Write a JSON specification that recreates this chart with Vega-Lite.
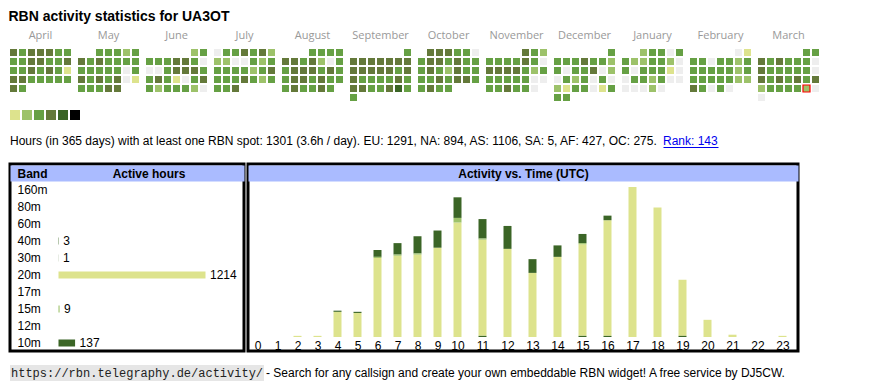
{
"$schema": "https://vega.github.io/schema/vega-lite/v6.json",
"background": "white",
"padding": {"left": 8, "top": 10, "right": 5, "bottom": 2},
"title": {"text": "RBN activity statistics for UA3OT", "anchor": "start", "fontSize": 14, "font": "Liberation Sans", "fontWeight": "bold", "color": "#000", "offset": 6},
"config": {"view": {"stroke": null}, "font": "Liberation Sans", "axis": {"grid": false}},
"resolve": {"scale": {"color": "independent", "x": "independent", "y": "independent"}},
"spacing": 10,
"vconcat": [
{
"vconcat": [
{
"data": {"values": [
{"d":"2024-04-01","v":4},{"d":"2024-04-02","v":3},{"d":"2024-04-03","v":4},{"d":"2024-04-04","v":4},{"d":"2024-04-05","v":4},{"d":"2024-04-06","v":3},{"d":"2024-04-07","v":3},{"d":"2024-04-08","v":3},{"d":"2024-04-09","v":3},{"d":"2024-04-10","v":4},{"d":"2024-04-11","v":4},{"d":"2024-04-12","v":3},{"d":"2024-04-13","v":3},{"d":"2024-04-14","v":4},{"d":"2024-04-15","v":3},{"d":"2024-04-16","v":3},{"d":"2024-04-17","v":4},{"d":"2024-04-18","v":3},{"d":"2024-04-19","v":4},{"d":"2024-04-20","v":3},{"d":"2024-04-21","v":1},{"d":"2024-04-22","v":4},{"d":"2024-04-23","v":4},{"d":"2024-04-24","v":3},{"d":"2024-04-25","v":3},{"d":"2024-04-26","v":3},{"d":"2024-04-27","v":3},{"d":"2024-04-28","v":3},{"d":"2024-04-29","v":4},{"d":"2024-04-30","v":3},
{"d":"2024-05-01","v":3},{"d":"2024-05-02","v":3},{"d":"2024-05-03","v":3},{"d":"2024-05-04","v":2},{"d":"2024-05-05","v":3},{"d":"2024-05-06","v":4},{"d":"2024-05-07","v":3},{"d":"2024-05-08","v":4},{"d":"2024-05-09","v":3},{"d":"2024-05-10","v":3},{"d":"2024-05-11","v":3},{"d":"2024-05-12","v":3},{"d":"2024-05-13","v":3},{"d":"2024-05-14","v":3},{"d":"2024-05-15","v":3},{"d":"2024-05-16","v":3},{"d":"2024-05-17","v":3},{"d":"2024-05-18","v":0},{"d":"2024-05-19","v":3},{"d":"2024-05-20","v":4},{"d":"2024-05-21","v":3},{"d":"2024-05-22","v":4},{"d":"2024-05-23","v":3},{"d":"2024-05-24","v":4},{"d":"2024-05-25","v":0},{"d":"2024-05-26","v":1},{"d":"2024-05-27","v":3},{"d":"2024-05-28","v":3},{"d":"2024-05-29","v":3},{"d":"2024-05-30","v":4},{"d":"2024-05-31","v":4},
{"d":"2024-06-01","v":2},{"d":"2024-06-02","v":3},{"d":"2024-06-03","v":3},{"d":"2024-06-04","v":3},{"d":"2024-06-05","v":3},{"d":"2024-06-06","v":4},{"d":"2024-06-07","v":4},{"d":"2024-06-08","v":3},{"d":"2024-06-09","v":0},{"d":"2024-06-10","v":0},{"d":"2024-06-11","v":0},{"d":"2024-06-12","v":3},{"d":"2024-06-13","v":4},{"d":"2024-06-14","v":4},{"d":"2024-06-15","v":4},{"d":"2024-06-16","v":3},{"d":"2024-06-17","v":3},{"d":"2024-06-18","v":4},{"d":"2024-06-19","v":3},{"d":"2024-06-20","v":1},{"d":"2024-06-21","v":0},{"d":"2024-06-22","v":3},{"d":"2024-06-23","v":4},{"d":"2024-06-24","v":3},{"d":"2024-06-25","v":2},{"d":"2024-06-26","v":3},{"d":"2024-06-27","v":3},{"d":"2024-06-28","v":3},{"d":"2024-06-29","v":2},{"d":"2024-06-30","v":0},
{"d":"2024-07-01","v":0},{"d":"2024-07-02","v":3},{"d":"2024-07-03","v":3},{"d":"2024-07-04","v":4},{"d":"2024-07-05","v":3},{"d":"2024-07-06","v":4},{"d":"2024-07-07","v":2},{"d":"2024-07-08","v":2},{"d":"2024-07-09","v":2},{"d":"2024-07-10","v":0},{"d":"2024-07-11","v":0},{"d":"2024-07-12","v":3},{"d":"2024-07-13","v":2},{"d":"2024-07-14","v":3},{"d":"2024-07-15","v":3},{"d":"2024-07-16","v":3},{"d":"2024-07-17","v":3},{"d":"2024-07-18","v":3},{"d":"2024-07-19","v":2},{"d":"2024-07-20","v":3},{"d":"2024-07-21","v":4},{"d":"2024-07-22","v":3},{"d":"2024-07-23","v":3},{"d":"2024-07-24","v":3},{"d":"2024-07-25","v":4},{"d":"2024-07-26","v":3},{"d":"2024-07-27","v":2},{"d":"2024-07-28","v":3},{"d":"2024-07-29","v":3},{"d":"2024-07-30","v":3},{"d":"2024-07-31","v":4},
{"d":"2024-08-01","v":3},{"d":"2024-08-02","v":3},{"d":"2024-08-03","v":3},{"d":"2024-08-04","v":3},{"d":"2024-08-05","v":4},{"d":"2024-08-06","v":4},{"d":"2024-08-07","v":3},{"d":"2024-08-08","v":4},{"d":"2024-08-09","v":2},{"d":"2024-08-10","v":0},{"d":"2024-08-11","v":3},{"d":"2024-08-12","v":3},{"d":"2024-08-13","v":4},{"d":"2024-08-14","v":4},{"d":"2024-08-15","v":4},{"d":"2024-08-16","v":3},{"d":"2024-08-17","v":4},{"d":"2024-08-18","v":3},{"d":"2024-08-19","v":3},{"d":"2024-08-20","v":4},{"d":"2024-08-21","v":4},{"d":"2024-08-22","v":3},{"d":"2024-08-23","v":4},{"d":"2024-08-24","v":3},{"d":"2024-08-25","v":3},{"d":"2024-08-26","v":3},{"d":"2024-08-27","v":4},{"d":"2024-08-28","v":3},{"d":"2024-08-29","v":3},{"d":"2024-08-30","v":4},{"d":"2024-08-31","v":3},
{"d":"2024-09-01","v":3},{"d":"2024-09-02","v":4},{"d":"2024-09-03","v":4},{"d":"2024-09-04","v":4},{"d":"2024-09-05","v":4},{"d":"2024-09-06","v":4},{"d":"2024-09-07","v":4},{"d":"2024-09-08","v":4},{"d":"2024-09-09","v":4},{"d":"2024-09-10","v":4},{"d":"2024-09-11","v":4},{"d":"2024-09-12","v":4},{"d":"2024-09-13","v":4},{"d":"2024-09-14","v":3},{"d":"2024-09-15","v":4},{"d":"2024-09-16","v":4},{"d":"2024-09-17","v":3},{"d":"2024-09-18","v":3},{"d":"2024-09-19","v":3},{"d":"2024-09-20","v":3},{"d":"2024-09-21","v":4},{"d":"2024-09-22","v":3},{"d":"2024-09-23","v":4},{"d":"2024-09-24","v":4},{"d":"2024-09-25","v":3},{"d":"2024-09-26","v":3},{"d":"2024-09-27","v":4},{"d":"2024-09-28","v":5},{"d":"2024-09-29","v":3},{"d":"2024-09-30","v":3},
{"d":"2024-10-01","v":4},{"d":"2024-10-02","v":4},{"d":"2024-10-03","v":4},{"d":"2024-10-04","v":3},{"d":"2024-10-05","v":3},{"d":"2024-10-06","v":0},{"d":"2024-10-07","v":3},{"d":"2024-10-08","v":4},{"d":"2024-10-09","v":4},{"d":"2024-10-10","v":3},{"d":"2024-10-11","v":4},{"d":"2024-10-12","v":3},{"d":"2024-10-13","v":3},{"d":"2024-10-14","v":3},{"d":"2024-10-15","v":4},{"d":"2024-10-16","v":3},{"d":"2024-10-17","v":2},{"d":"2024-10-18","v":4},{"d":"2024-10-19","v":3},{"d":"2024-10-20","v":3},{"d":"2024-10-21","v":3},{"d":"2024-10-22","v":3},{"d":"2024-10-23","v":4},{"d":"2024-10-24","v":3},{"d":"2024-10-25","v":4},{"d":"2024-10-26","v":4},{"d":"2024-10-27","v":3},{"d":"2024-10-28","v":3},{"d":"2024-10-29","v":4},{"d":"2024-10-30","v":3},{"d":"2024-10-31","v":3},
{"d":"2024-11-01","v":4},{"d":"2024-11-02","v":3},{"d":"2024-11-03","v":2},{"d":"2024-11-04","v":3},{"d":"2024-11-05","v":3},{"d":"2024-11-06","v":3},{"d":"2024-11-07","v":3},{"d":"2024-11-08","v":4},{"d":"2024-11-09","v":3},{"d":"2024-11-10","v":0},{"d":"2024-11-11","v":4},{"d":"2024-11-12","v":4},{"d":"2024-11-13","v":4},{"d":"2024-11-14","v":4},{"d":"2024-11-15","v":3},{"d":"2024-11-16","v":2},{"d":"2024-11-17","v":3},{"d":"2024-11-18","v":3},{"d":"2024-11-19","v":3},{"d":"2024-11-20","v":3},{"d":"2024-11-21","v":3},{"d":"2024-11-22","v":3},{"d":"2024-11-23","v":0},{"d":"2024-11-24","v":0},{"d":"2024-11-25","v":3},{"d":"2024-11-26","v":3},{"d":"2024-11-27","v":4},{"d":"2024-11-28","v":3},{"d":"2024-11-29","v":3},{"d":"2024-11-30","v":0},
{"d":"2024-12-01","v":3},{"d":"2024-12-02","v":3},{"d":"2024-12-03","v":3},{"d":"2024-12-04","v":3},{"d":"2024-12-05","v":4},{"d":"2024-12-06","v":3},{"d":"2024-12-07","v":3},{"d":"2024-12-08","v":2},{"d":"2024-12-09","v":3},{"d":"2024-12-10","v":0},{"d":"2024-12-11","v":3},{"d":"2024-12-12","v":3},{"d":"2024-12-13","v":4},{"d":"2024-12-14","v":0},{"d":"2024-12-15","v":2},{"d":"2024-12-16","v":0},{"d":"2024-12-17","v":3},{"d":"2024-12-18","v":2},{"d":"2024-12-19","v":3},{"d":"2024-12-20","v":0},{"d":"2024-12-21","v":3},{"d":"2024-12-22","v":0},{"d":"2024-12-23","v":2},{"d":"2024-12-24","v":1},{"d":"2024-12-25","v":3},{"d":"2024-12-26","v":3},{"d":"2024-12-27","v":0},{"d":"2024-12-28","v":1},{"d":"2024-12-29","v":3},{"d":"2024-12-30","v":3},{"d":"2024-12-31","v":3},
{"d":"2025-01-01","v":2},{"d":"2025-01-02","v":3},{"d":"2025-01-03","v":3},{"d":"2025-01-04","v":0},{"d":"2025-01-05","v":3},{"d":"2025-01-06","v":3},{"d":"2025-01-07","v":2},{"d":"2025-01-08","v":2},{"d":"2025-01-09","v":3},{"d":"2025-01-10","v":3},{"d":"2025-01-11","v":2},{"d":"2025-01-12","v":0},{"d":"2025-01-13","v":3},{"d":"2025-01-14","v":0},{"d":"2025-01-15","v":3},{"d":"2025-01-16","v":3},{"d":"2025-01-17","v":3},{"d":"2025-01-18","v":1},{"d":"2025-01-19","v":0},{"d":"2025-01-20","v":0},{"d":"2025-01-21","v":3},{"d":"2025-01-22","v":3},{"d":"2025-01-23","v":2},{"d":"2025-01-24","v":3},{"d":"2025-01-25","v":0},{"d":"2025-01-26","v":0},{"d":"2025-01-27","v":0},{"d":"2025-01-28","v":0},{"d":"2025-01-29","v":0},{"d":"2025-01-30","v":2},{"d":"2025-01-31","v":0},
{"d":"2025-02-01","v":0},{"d":"2025-02-02","v":1},{"d":"2025-02-03","v":3},{"d":"2025-02-04","v":3},{"d":"2025-02-05","v":0},{"d":"2025-02-06","v":3},{"d":"2025-02-07","v":3},{"d":"2025-02-08","v":2},{"d":"2025-02-09","v":3},{"d":"2025-02-10","v":3},{"d":"2025-02-11","v":3},{"d":"2025-02-12","v":3},{"d":"2025-02-13","v":3},{"d":"2025-02-14","v":3},{"d":"2025-02-15","v":2},{"d":"2025-02-16","v":3},{"d":"2025-02-17","v":3},{"d":"2025-02-18","v":3},{"d":"2025-02-19","v":3},{"d":"2025-02-20","v":3},{"d":"2025-02-21","v":3},{"d":"2025-02-22","v":2},{"d":"2025-02-23","v":2},{"d":"2025-02-24","v":4},{"d":"2025-02-25","v":3},{"d":"2025-02-26","v":0},{"d":"2025-02-27","v":3},{"d":"2025-02-28","v":0},
{"d":"2025-03-01","v":3},{"d":"2025-03-02","v":3},{"d":"2025-03-03","v":4},{"d":"2025-03-04","v":3},{"d":"2025-03-05","v":4},{"d":"2025-03-06","v":3},{"d":"2025-03-07","v":3},{"d":"2025-03-08","v":3},{"d":"2025-03-09","v":0},{"d":"2025-03-10","v":4},{"d":"2025-03-11","v":3},{"d":"2025-03-12","v":3},{"d":"2025-03-13","v":3},{"d":"2025-03-14","v":3},{"d":"2025-03-15","v":3},{"d":"2025-03-16","v":0},{"d":"2025-03-17","v":4},{"d":"2025-03-18","v":3},{"d":"2025-03-19","v":4},{"d":"2025-03-20","v":3},{"d":"2025-03-21","v":4},{"d":"2025-03-22","v":3},{"d":"2025-03-23","v":4},{"d":"2025-03-24","v":2},{"d":"2025-03-25","v":3},{"d":"2025-03-26","v":3},{"d":"2025-03-27","v":3},{"d":"2025-03-28","v":3},{"d":"2025-03-29","v":2},{"d":"2025-03-30","v":0},{"d":"2025-03-31","v":0}
]},
"transform": [
{"calculate": "toDate(datum.d)", "as": "t"},
{"calculate": "(utcday(datum.t) + 6) % 7", "as": "dow"},
{"calculate": "floor((utcdate(datum.t) - 1 + (utcday(utc(utcyear(datum.t), utcmonth(datum.t), 1)) + 6) % 7) / 7)", "as": "wk"},
{"calculate": "utcFormat(datum.t, '%B')", "as": "mon"}
],
"facet": {"column": {"field": "mon", "type": "ordinal", "sort": ["April","May","June","July","August","September","October","November","December","January","February","March"], "title": null,
  "header": {"labelFontSize": 11, "labelColor": "#999999", "labelFont": "Open Sans", "labelPadding": 8}}},
"spacing": {"column": 6},
"spec": {
  "width": 61, "height": 52,
  "mark": {"type": "rect"},
  "encoding": {
    "x": {"field": "dow", "type": "ordinal", "scale": {"domain": [0,1,2,3,4,5,6], "paddingInner": 0.22, "paddingOuter": 0}, "axis": null},
    "y": {"field": "wk", "type": "ordinal", "scale": {"domain": [0,1,2,3,4,5], "paddingInner": 0.22, "paddingOuter": 0}, "axis": null},
    "color": {"field": "v", "type": "ordinal", "scale": {"domain": [0,1,2,3,4,5], "range": ["#eeeeee","#dde38d","#9dc26a","#66a044","#64793a","#3b6526"]}, "legend": null},
    "stroke": {"condition": {"test": "datum.d === '2025-03-29'", "value": "#ff0000"}, "value": null},
    "strokeWidth": {"condition": {"test": "datum.d === '2025-03-29'", "value": 1.2}, "value": 0}
  }
}
},
{
"data": {"values": [{"v":1},{"v":2},{"v":3},{"v":4},{"v":5},{"v":6}]},
"width": 70, "height": 10,
"mark": "rect",
"encoding": {
  "x": {"field": "v", "type": "ordinal", "scale": {"paddingInner": 0.1667, "paddingOuter": 0}, "axis": null},
  "color": {"field": "v", "type": "ordinal", "scale": {"domain": [1,2,3,4,5,6], "range": ["#dde38d","#9dc26a","#66a044","#64793a","#3b6526","#000000"]}, "legend": null}
}
}
],
"spacing": 9,
"resolve": {"scale": {"color": "independent", "x": "independent", "y": "independent"}}
},
{
"hconcat": [
  {"data": {"values": [{"t": "Hours (in 365 days) with at least one RBN spot: 1301 (3.6h / day). EU: 1291, NA: 894, AS: 1106, SA: 5, AF: 427, OC: 275.", "p": 0}]},
   "width": 1, "height": 22,
   "mark": {"type": "text", "align": "left", "baseline": "middle", "fontSize": 12, "font": "Liberation Sans", "color": "#000"},
   "encoding": {"text": {"field": "t"}, "x": {"field": "p", "type": "quantitative", "scale": {"domain": [0, 1]}, "axis": null}}},
  {"data": {"values": [{"t": "Rank: 143", "p": 0}]},
   "width": 55, "height": 22,
   "mark": {"type": "text", "align": "left", "baseline": "middle", "fontSize": 12, "font": "Liberation Sans", "color": "#0000ee"},
   "encoding": {"text": {"field": "t"},
     "x": {"field": "p", "type": "quantitative", "scale": {"domain": [0, 1]}, "axis": {"orient": "bottom", "offset": -5, "domainColor": "#0000ee", "domainWidth": 1, "labels": false, "ticks": false, "title": null, "grid": false}}}}
],
"spacing": 4
},
{
"vconcat": [
 {"hconcat": [
  {"data": {"values": [
     {"band":"160m","hours":0},{"band":"80m","hours":0},{"band":"60m","hours":0},{"band":"40m","hours":3},{"band":"30m","hours":1},
     {"band":"20m","hours":1214},{"band":"17m","hours":0},{"band":"15m","hours":9},{"band":"12m","hours":0},{"band":"10m","hours":137}]},
   "width": 234, "height": 187,
   "view": {"stroke": "#000", "strokeWidth": 3},
   "layer": [
    {"mark": {"type": "bar"},
     "encoding": {
      "y": {"field": "band", "type": "ordinal",
            "scale": {"domain": ["160m","80m","60m","40m","30m","20m","17m","15m","12m","10m"], "range": [17.5, 187.5], "paddingInner": 0.59, "paddingOuter": 0.295},
            "axis": {"orient": "left", "title": "Band", "titleAngle": 0, "titleX": 7, "titleY": 9, "titleAlign": "left", "titleBaseline": "middle", "titleFontSize": 12, "titleFontWeight": "bold", "titleFont": "Liberation Sans", "titleColor": "#000",
                     "labelAlign": "left", "labelPadding": -7, "labelFontSize": 12, "labelFont": "Liberation Sans", "labelColor": "#000", "ticks": false, "domain": false, "zindex": 2}},
      "x": {"field": "hours", "type": "quantitative", "scale": {"domain": [-400.5, 1532], "nice": false, "zero": false, "padding": 0},
            "axis": {"orient": "top", "offset": -9, "domainColor": "#aabbff", "domainWidth": 16, "labels": false, "ticks": false,
                     "title": "Active hours", "titleX": 138.5, "titleY": 0, "titleAlign": "center", "titleBaseline": "middle", "titleFontSize": 12, "titleFontWeight": "bold", "titleFont": "Liberation Sans", "titleColor": "#000", "zindex": 1}},
      "color": {"field": "band", "type": "nominal", "scale": {"domain": ["160m","80m","60m","40m","30m","20m","17m","15m","12m","10m"], "range": ["#000000","#3b6526","#64793a","#3b6526","#3b6526","#dde38d","#66a044","#9dc26a","#64793a","#3b6526"]}, "legend": null}
     }},
    {"transform": [{"filter": "datum.hours > 0"}],
     "mark": {"type": "text", "align": "left", "baseline": "middle", "dx": 4.5, "fontSize": 12, "font": "Liberation Sans", "color": "#000"},
     "encoding": {
      "y": {"field": "band", "type": "ordinal"},
      "x": {"field": "hours", "type": "quantitative"},
      "text": {"field": "hours", "type": "quantitative", "format": "d"}
     }}
   ]},
  {"data": {"values": [
     {"hour":2,"band":"20m","hours":1},{"hour":3,"band":"20m","hours":1},{"hour":4,"band":"20m","hours":22},{"hour":5,"band":"20m","hours":21},{"hour":6,"band":"20m","hours":69},{"hour":7,"band":"20m","hours":71},{"hour":8,"band":"20m","hours":72},{"hour":9,"band":"20m","hours":78},{"hour":10,"band":"20m","hours":100},{"hour":11,"band":"20m","hours":84},{"hour":12,"band":"20m","hours":77},{"hour":13,"band":"20m","hours":56},{"hour":14,"band":"20m","hours":70},{"hour":15,"band":"20m","hours":80},{"hour":16,"band":"20m","hours":101},{"hour":17,"band":"20m","hours":131},{"hour":18,"band":"20m","hours":113},{"hour":19,"band":"20m","hours":49},{"hour":20,"band":"20m","hours":15},{"hour":21,"band":"20m","hours":2},{"hour":23,"band":"20m","hours":1},
     {"hour":4,"band":"10m","hours":1},{"hour":5,"band":"10m","hours":1},{"hour":6,"band":"10m","hours":6},{"hour":7,"band":"10m","hours":10},{"hour":8,"band":"10m","hours":15},{"hour":9,"band":"10m","hours":15},{"hour":10,"band":"10m","hours":18},{"hour":11,"band":"10m","hours":17},{"hour":12,"band":"10m","hours":20},{"hour":13,"band":"10m","hours":12},{"hour":14,"band":"10m","hours":10},{"hour":15,"band":"10m","hours":8},{"hour":16,"band":"10m","hours":4},
     {"hour":6,"band":"15m","hours":1},{"hour":7,"band":"15m","hours":1},{"hour":8,"band":"15m","hours":1},{"hour":10,"band":"15m","hours":4},{"hour":11,"band":"15m","hours":1},{"hour":15,"band":"15m","hours":1},
     {"hour":11,"band":"40m","hours":1},{"hour":15,"band":"40m","hours":1},{"hour":16,"band":"40m","hours":1},
     {"hour":19,"band":"30m","hours":1}]},
   "width": 550, "height": 187,
   "view": {"stroke": "#000", "strokeWidth": 3},
   "transform": [{"calculate": "indexof(['160m','80m','60m','40m','30m','20m','17m','15m','12m','10m'], datum.band)", "as": "ord"}],
   "layer": [
    {"mark": {"type": "bar", "width": 8},
     "encoding": {
      "x": {"field": "hour", "type": "quantitative", "scale": {"domain": [-0.475, 10, 23.62], "range": [0, 209.5, 550], "nice": false, "zero": false, "padding": 0},
            "axis": {"orient": "bottom", "offset": -14, "values": [0,1,2,3,4,5,6,7,8,9,10,11,12,13,14,15,16,17,18,19,20,21,22,23], "format": "d",
                     "labelFontSize": 12, "labelFont": "Liberation Sans", "labelColor": "#000", "labelPadding": 3, "labelBaseline": "top", "labelFlush": false, "labelOverlap": false,
                     "ticks": false, "domain": false, "title": null, "grid": false}},
      "y": {"field": "hours", "type": "quantitative", "scale": {"domain": [-12.23, 151.1], "nice": false, "zero": false, "padding": 0}, "axis": null},
      "color": {"field": "band", "type": "nominal", "scale": {"domain": ["160m","80m","60m","40m","30m","20m","17m","15m","12m","10m"], "range": ["#000000","#3b6526","#64793a","#3b6526","#3b6526","#dde38d","#66a044","#9dc26a","#64793a","#3b6526"]}, "legend": null},
      "order": {"field": "ord", "type": "quantitative"}
     }},
    {"mark": {"type": "point", "opacity": 0},
     "encoding": {
      "x": {"field": "hour", "type": "quantitative",
            "axis": {"orient": "top", "offset": -9, "domainColor": "#aabbff", "domainWidth": 16, "labels": false, "ticks": false, "grid": false,
                     "title": "Activity vs. Time (UTC)", "titleY": 0, "titleBaseline": "middle", "titleFontSize": 12, "titleFontWeight": "bold", "titleFont": "Liberation Sans", "titleColor": "#000", "zindex": 1}}
     }}
   ],
   "resolve": {"axis": {"x": "independent"}}}
 ], "spacing": 0},
 {"hconcat": [
  {"data": {"values": [{"t": "https://rbn.telegraphy.de/activity/", "p": 0}]},
   "width": 254, "height": 16,
   "view": {"fill": "#e6e6e6"},
   "mark": {"type": "text", "align": "left", "baseline": "middle", "dx": 1, "fontSize": 12, "font": "Liberation Mono", "color": "#222"},
   "encoding": {"text": {"field": "t"}, "x": {"field": "p", "type": "quantitative", "scale": {"domain": [0, 1]}, "axis": null}}},
  {"data": {"values": [{"t": "- Search for any callsign and create your own embeddable RBN widget! A free service by DJ5CW.", "p": 0}]},
   "width": 1, "height": 16,
   "mark": {"type": "text", "align": "left", "baseline": "middle", "fontSize": 12, "font": "Liberation Sans", "color": "#000"},
   "encoding": {"text": {"field": "t"}, "x": {"field": "p", "type": "quantitative", "scale": {"domain": [0, 1]}, "axis": null}}}
 ], "spacing": 2}
],
"spacing": 12
}
]
}
